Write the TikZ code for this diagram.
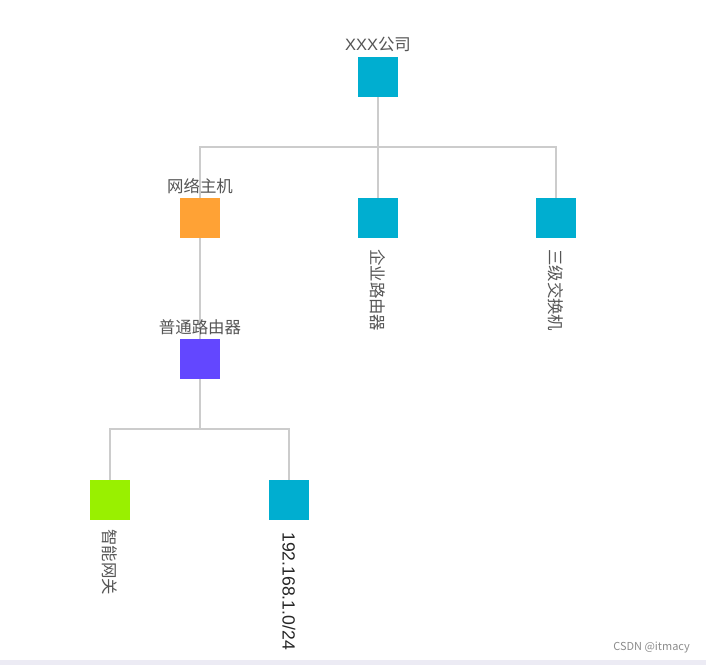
\documentclass[tikz,border=0pt]{standalone}
\usepackage{fontspec}
\setmainfont{Noto Sans CJK SC}
\newfontfamily\latinfnt{Liberation Sans}
\begin{document}
\begin{tikzpicture}[x=1bp,y=-1bp,
  sq/.style={minimum size=40bp,inner sep=0pt,outer sep=0pt,draw=none},
  conn/.style={draw=linegray,line width=1.6bp},
  lbl/.style={text=labelgray,font=\fontsize{16.5}{16.5}\selectfont,inner sep=0pt},
  rlbl/.style={lbl,rotate=-90,anchor=west}]
\definecolor{linegray}{HTML}{CCCCCC}
\definecolor{labelgray}{HTML}{555555}
\definecolor{cyanb}{HTML}{00AED0}
\definecolor{orangeb}{HTML}{FFA235}
\definecolor{purpleb}{HTML}{6347FF}
\definecolor{greenb}{HTML}{99F000}
\definecolor{stripb}{HTML}{ECEBF4}
\useasboundingbox (0,0) rectangle (706,665);
\fill[white] (0,0) rectangle (706,665);
\fill[stripb] (0,660) rectangle (706,665);
% coordinates
\coordinate (b0) at (378,147);
\coordinate (b1) at (200,429);
% nodes
\node[sq] (root) at (378,77) {};
\node[sq] (n1) at (200,218) {};
\node[sq] (n2) at (378,218) {};
\node[sq] (n3) at (556,218) {};
\node[sq] (n4) at (200,359) {};
\node[sq] (n5) at (110,500) {};
\node[sq] (n6) at (289,500) {};
\draw[conn] (root.south) -- (b0);
\draw[conn] (b0) -| (n1.north);
\draw[conn] (b0) -- (n2.north);
\draw[conn] (b0) -| (n3.north);
\draw[conn] (n1.south) -- (n4.north);
\draw[conn] (n4.south) -- (b1);
\draw[conn] (b1) -| (n5.north);
\draw[conn] (b1) -| (n6.north);
% squares
\fill[cyanb] (root.south west) rectangle (root.north east);
\fill[orangeb] (n1.south west) rectangle (n1.north east);
\fill[cyanb] (n2.south west) rectangle (n2.north east);
\fill[cyanb] (n3.south west) rectangle (n3.north east);
\fill[purpleb] (n4.south west) rectangle (n4.north east);
\fill[greenb] (n5.south west) rectangle (n5.north east);
\fill[cyanb] (n6.south west) rectangle (n6.north east);
% labels
\node[lbl] (t0) at (378,44) {{\latinfnt XXX}公司};
\node[lbl] (t1) at (200,186) {网络主机};
\node[lbl] (t4) at (200,327) {普通路由器};
\node[rlbl] (t2) at (378,249) {企业路由器};
\node[rlbl] (t3) at (556,249) {三级交换机};
\node[rlbl] (t5) at (110,529) {智能网关};
\node[rlbl,text=black!85,font=\latinfnt\fontsize{17.7}{17.7}\selectfont] (t6) at (289,532) {192.168.1.0/24};
\node[text=black!45,font=\fontsize{11}{11}\selectfont,inner sep=0pt,anchor=east] (wm) at (690,648) {CSDN @itmacy};
\end{tikzpicture}
\end{document}
